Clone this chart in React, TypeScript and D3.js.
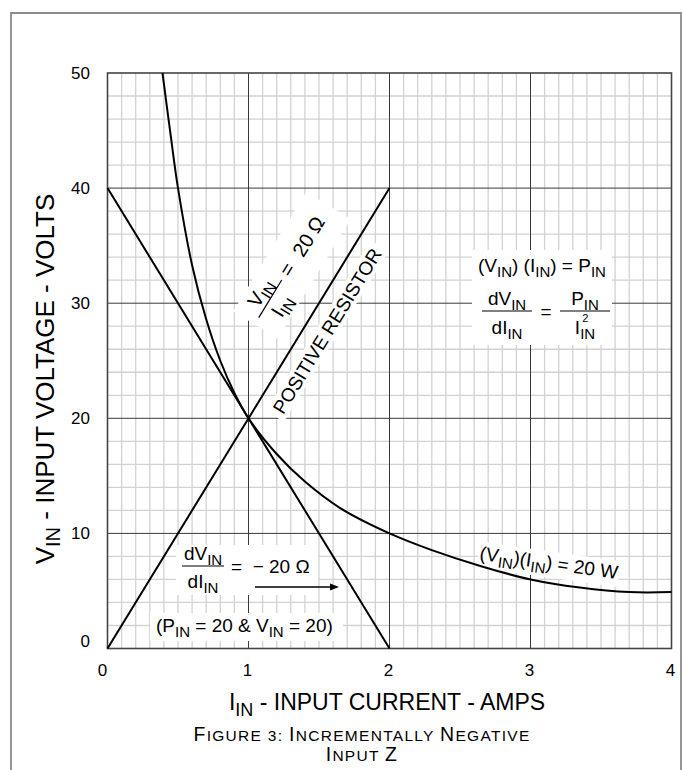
import React from 'react';
import * as d3 from 'd3';

// ---- data ----
const currentTicks = [0, 1, 2, 3, 4];
const voltageTicks = [0, 10, 20, 30, 40, 50];
const powerCurrent = [0.39, 0.45, 0.5, 0.6, 0.7, 0.8, 0.9, 1.0, 1.2, 1.4, 1.65, 2.0, 2.3, 2.65, 3.0, 3.35, 3.7, 4.0];
const powerVoltage = [50, 44.4, 40, 33.3, 28.6, 25, 22.2, 20, 16.9, 14.5, 12.2, 10, 8.55, 7.15, 6.0, 5.3, 4.9, 4.9];
const negCurrent = [0, 2];
const negVoltage = [40, 0];
const posCurrent = [0, 2];
const posVoltage = [0, 40];

const W = 683;
const H = 770;
const M = { left: 107.5, right: 671.5, top: 73, bottom: 648.5 };
const FONT = "'Liberation Sans', Arial, Helvetica, sans-serif";
const FS = 19;
const SFS = 15;
const SD = 5;

export default function App() {
  const x = d3.scaleLinear().domain([0, 4]).range([M.left, M.right]);
  const y = d3.scaleLinear().domain([0, 50]).range([M.bottom, M.top]);

  const minorX = d3.range(0, 40.5, 1).map((d) => d / 10).filter((d) => Math.abs(d - Math.round(d)) > 1e-6);
  const minorY = d3.range(0, 51, 2).filter((d) => d % 10 !== 0);
  const majorX = currentTicks.slice(1, -1);
  const majorY = voltageTicks.slice(1, -1);

  const line = d3
    .line<[number, number]>()
    .x((d) => x(d[0]))
    .y((d) => y(d[1]));
  const curve = d3
    .line<[number, number]>()
    .x((d) => x(d[0]))
    .y((d) => y(d[1]))
    .curve(d3.curveCatmullRom.alpha(0.5));

  const powerPts = powerCurrent.map((c, i) => [c, powerVoltage[i]] as [number, number]);
  const negPts = negCurrent.map((c, i) => [c, negVoltage[i]] as [number, number]);
  const posPts = posCurrent.map((c, i) => [c, posVoltage[i]] as [number, number]);

  const angle = (-Math.atan2(y(0) - y(40), x(2) - x(0)) * 180) / Math.PI;

  return (
    <svg
      width={W}
      height={H}
      style={{ position: 'absolute', left: 0, top: 0, display: 'block', background: '#fff' }}
      fontFamily={FONT}
    >
      <rect x={0} y={0} width={W} height={H} fill="#fff" />
      {/* outer frame */}
      <path d={`M11,${H + 2} V13 H681 V${H + 2}`} fill="none" stroke="#8a8a8a" strokeWidth={1.8} />

      {/* minor grid */}
      <g stroke="#d2d2d2" strokeWidth={1.3}>
        {minorX.map((d) => (
          <line key={'mx' + d} x1={x(d)} x2={x(d)} y1={M.top} y2={M.bottom} />
        ))}
        {minorY.map((d) => (
          <line key={'my' + d} x1={M.left} x2={M.right} y1={y(d)} y2={y(d)} />
        ))}
      </g>
      {/* major grid */}
      <g stroke="#3a3a3a" strokeWidth={1}>
        {majorX.map((d) => (
          <line key={'Mx' + d} x1={x(d)} x2={x(d)} y1={M.top} y2={M.bottom} />
        ))}
        {majorY.map((d) => (
          <line key={'My' + d} x1={M.left} x2={M.right} y1={y(d)} y2={y(d)} />
        ))}
      </g>
      <rect
        x={M.left}
        y={M.top}
        width={M.right - M.left}
        height={M.bottom - M.top}
        fill="none"
        stroke="#444"
        strokeWidth={1.6}
      />

      {/* white backgrounds for annotations */}
      <g fill="#fff">
        <rect x={472} y={250} width={140} height={95} />
        <rect x={176} y={545} width={142} height={50} />
        <rect x={150} y={613} width={193} height={28} />
        <g transform={`translate(${x(1.28)},${y(32.9)}) rotate(${angle})`}>
          <rect x={-64} y={-25} width={140} height={52} />
        </g>
        <g transform={`translate(${x(1.556)},${y(27.6)}) rotate(${angle})`}>
          <rect x={-100} y={-10} width={200} height={21} />
        </g>
        <g transform={`translate(${x(3.13)},${y(7.4)}) rotate(8)`}>
          <rect x={-71} y={-12} width={142} height={26} />
        </g>
      </g>

      {/* lines */}
      <path d={line(negPts) || ''} fill="none" stroke="#000" strokeWidth={2} />
      <path d={line(posPts) || ''} fill="none" stroke="#000" strokeWidth={2} />
      <path d={curve(powerPts) || ''} fill="none" stroke="#000" strokeWidth={2} />

      {/* tick labels */}
      <g fontSize={17} fill="#000">
        {voltageTicks.map((d) => (
          <text key={'yt' + d} x={90} y={y(d) + (d === 0 ? -7 : 0)} textAnchor="end" dominantBaseline="central">
            {d}
          </text>
        ))}
        {currentTicks.map((d) => (
          <text key={'xt' + d} x={x(d) + (d === 0 ? -5 : -1)} y={676} textAnchor="middle">
            {d}
          </text>
        ))}
      </g>

      {/* axis titles */}
      <text transform={`translate(54,379) rotate(-90)`} textAnchor="middle" fontSize={26}>
        V<tspan dy={6} fontSize={20}>IN</tspan>
        <tspan dy={-6}> - INPUT VOLTAGE - VOLTS</tspan>
      </text>
      <text x={387} y={710} textAnchor="middle" fontSize={23}>
        I<tspan dy={6} fontSize={18}>IN</tspan>
        <tspan dy={-6}> - INPUT CURRENT - AMPS</tspan>
      </text>
      <text x={362} y={741} textAnchor="middle" fontSize={19.5} letterSpacing={1.3}>
        F<tspan fontSize={15.5}>IGURE 3: </tspan>I<tspan fontSize={15.5}>NCREMENTALLY </tspan>N
        <tspan fontSize={15.5}>EGATIVE</tspan>
      </text>
      <text x={362} y={761} textAnchor="middle" fontSize={19.5} letterSpacing={1.3}>
        I<tspan fontSize={15.5}>NPUT </tspan>Z
      </text>

      {/* right formula block */}
      <g fontSize={FS} fill="#000">
        <text x={478} y={272}>
          (V<tspan dy={SD} fontSize={SFS}>IN</tspan>
          <tspan dy={-SD}>) (I</tspan>
          <tspan dy={SD} fontSize={SFS}>IN</tspan>
          <tspan dy={-SD}>) = P</tspan>
          <tspan dy={SD} fontSize={SFS}>IN</tspan>
        </text>
        <text x={507} y={305} textAnchor="middle">
          dV<tspan dy={SD} fontSize={SFS}>IN</tspan>
        </text>
        <line x1={482} x2={532} y1={311} y2={311} stroke="#000" strokeWidth={1.2} />
        <text x={507} y={334} textAnchor="middle">
          dI<tspan dy={SD} fontSize={SFS}>IN</tspan>
        </text>
        <text x={546} y={318} textAnchor="middle">=</text>
        <text x={585} y={305} textAnchor="middle">
          P<tspan dy={SD} fontSize={SFS}>IN</tspan>
        </text>
        <line x1={560} x2={610} y1={311} y2={311} stroke="#000" strokeWidth={1.2} />
        <text x={585} y={334} textAnchor="middle">
          I<tspan dy={SD} fontSize={SFS}>IN</tspan>
          <tspan dx={-13} dy={-SD - 12} fontSize={11}>2</tspan>
        </text>
      </g>

      {/* left-bottom block */}
      <g fontSize={FS} fill="#000">
        <text x={203} y={560} textAnchor="middle">
          dV<tspan dy={SD} fontSize={SFS}>IN</tspan>
        </text>
        <line x1={182} x2={224} y1={566} y2={566} stroke="#000" strokeWidth={1.2} />
        <text x={203} y={588} textAnchor="middle">
          dI<tspan dy={SD} fontSize={SFS}>IN</tspan>
        </text>
        <text x={231} y={573} style={{ whiteSpace: 'pre' }}>
          {'=  \u2212 20 \u03a9'}
        </text>
        <line x1={255} x2={331} y1={587} y2={587} stroke="#000" strokeWidth={1.3} />
        <path d="M330,583.5 L339,587 L330,590.5 Z" fill="#000" />
        <text x={156} y={632}>
          (P<tspan dy={SD} fontSize={SFS}>IN</tspan>
          <tspan dy={-SD}> = 20 &amp; V</tspan>
          <tspan dy={SD} fontSize={SFS}>IN</tspan>
          <tspan dy={-SD}> = 20)</tspan>
        </text>
      </g>

      {/* rotated ratio label */}
      <g transform={`translate(${x(1.28)},${y(32.9)}) rotate(${angle})`} fontSize={20} fill="#000">
        <text x={0} y={6} textAnchor="middle">=</text>
        <text x={18} y={7}>{'20 \u03a9'}</text>
        <text x={-34} y={-5} textAnchor="middle">
          V<tspan dy={SD} fontSize={16}>IN</tspan>
        </text>
        <line x1={-56} x2={-12} y1={0} y2={0} stroke="#000" strokeWidth={1.2} />
        <text x={-34} y={20} textAnchor="middle">
          I<tspan dy={SD} fontSize={16}>IN</tspan>
        </text>
      </g>

      {/* POSITIVE RESISTOR */}
      <g transform={`translate(${x(1.556)},${y(27.6)}) rotate(${angle})`}>
        <text x={0} y={7} textAnchor="middle" fontSize={19}>
          POSITIVE RESISTOR
        </text>
      </g>

      {/* power label */}
      <g transform={`translate(${x(3.13)},${y(7.4)}) rotate(8)`} fontSize={FS}>
        <text x={0} y={6} textAnchor="middle">
          (V<tspan dy={SD} fontSize={SFS}>IN</tspan>
          <tspan dy={-SD}>)(I</tspan>
          <tspan dy={SD} fontSize={SFS}>IN</tspan>
          <tspan dy={-SD}>) = 20 W</tspan>
        </text>
      </g>
    </svg>
  );
}
